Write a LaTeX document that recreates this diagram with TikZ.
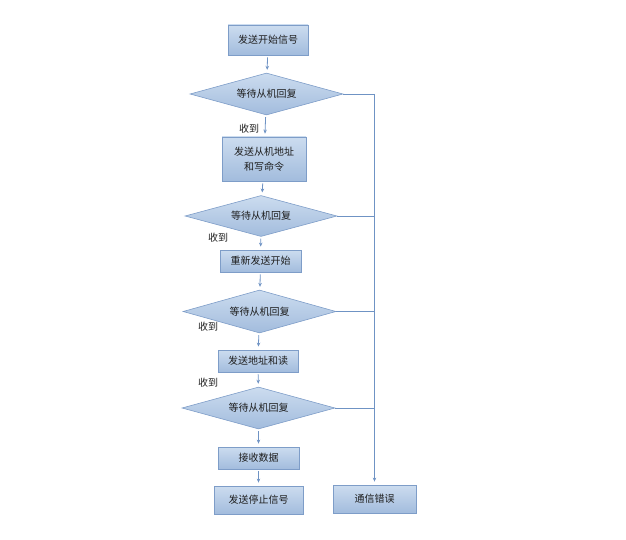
\documentclass[tikz,border=0pt]{standalone}
\usepackage{fontspec}
\setmainfont{Noto Sans CJK SC}
\usetikzlibrary{shapes.geometric,arrows.meta}
\definecolor{boxtop}{HTML}{CCDCEF}
\definecolor{boxbot}{HTML}{A2BCDD}
\definecolor{boxline}{HTML}{7E9DC8}
\definecolor{conn}{HTML}{6F93C4}
\definecolor{txt}{HTML}{1E1E1E}
\tikzset{
  procbox/.style={draw=boxline, line width=0.8pt, top color=boxtop, bottom color=boxbot,
    minimum width=#1, inner sep=0pt, align=center, font=\fontsize{10}{15}\selectfont, text=txt},
  decbox/.style={diamond, aspect=3.6, draw=boxline, line width=0.6pt, top color=boxtop, bottom color=boxbot,
    inner sep=0pt, minimum width=153pt, minimum height=42pt, font=\fontsize{10}{12}\selectfont, text=txt},
  flow/.style={draw=conn, line width=0.8pt, -{Stealth[length=4pt,width=3.5pt]}, shorten <=2pt, shorten >=3pt},
  link/.style={draw=conn, line width=0.8pt},
  yeslbl/.style={font=\fontsize{10}{12}\selectfont, text=txt, inner sep=0pt}
}
\begin{document}
\begin{tikzpicture}[x=1pt,y=-1pt]
\useasboundingbox (0,0) rectangle (626,540);
\node[procbox=80pt, minimum height=30pt] (b1) at (268,40) {发送开始信号};
\node[decbox] (d1) at (266.5,94) {等待从机回复};
\node[procbox=84pt, minimum height=44pt] (b2) at (264,159) {发送从机地址\\和写命令};
\node[decbox, minimum width=152pt, minimum height=41pt] (d2) at (261,216) {等待从机回复};
\node[procbox=81pt, minimum height=22pt] (b3) at (260.5,261) {重新发送开始};
\node[decbox, minimum height=43pt] (d3) at (259.5,311.5) {等待从机回复};
\node[procbox=80pt, minimum height=22pt] (b4) at (258,361) {发送地址和读};
\node[decbox] (d4) at (258.5,408) {等待从机回复};
\node[procbox=81pt, minimum height=22pt] (b5) at (258.5,458) {接收数据};
\node[procbox=89pt, minimum height=28pt] (b6) at (258.5,500) {发送停止信号};
\node[procbox=83pt, minimum height=28pt] (b7) at (374.5,499) {通信错误};

\node[yeslbl] (y1) at (249,129) {收到};
\node[yeslbl] (y2) at (218,238) {收到};
\node[yeslbl] (y3) at (208,327) {收到};
\node[yeslbl] (y4) at (208,383) {收到};

\draw[flow] (b1) -- (d1);
\draw[flow] (d1) -- (b2);
\draw[flow] (b2) -- (d2);
\draw[flow] (d2) -- (b3);
\draw[flow] (b3) -- (d3);
\draw[flow] (d3) -- (b4);
\draw[flow] (b4) -- (d4);
\draw[flow] (d4) -- (b5);
\draw[flow] (b5) -- (b6);

\coordinate (top) at (d1.east -| b7.north);
\draw[link] (d1.east) -- (top);
\draw[link] (d2.east) -- (d2.east -| b7.north);
\draw[link] (d3.east) -- (d3.east -| b7.north);
\draw[link] (d4.east) -- (d4.east -| b7.north);
\draw[flow, shorten <=0pt] (top) -- (b7.north);
\end{tikzpicture}
\end{document}
